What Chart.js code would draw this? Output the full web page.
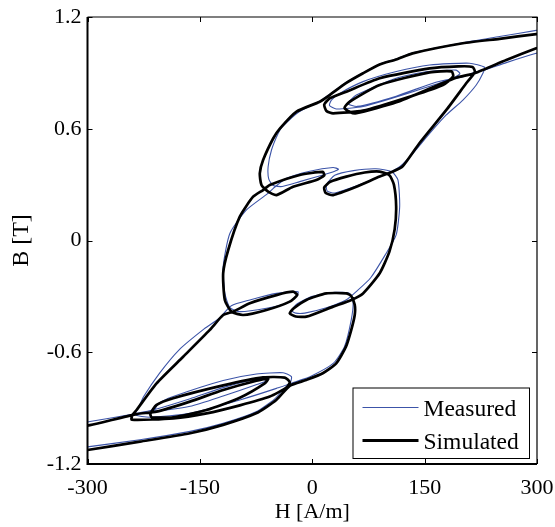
<!DOCTYPE html>
<html><head><meta charset="utf-8">
<script src="https://cdn.jsdelivr.net/npm/chart.js@4.4.0/dist/chart.umd.min.js"></script>
<style>html,body{margin:0;padding:0;background:#fff}canvas{display:block}</style>
</head><body>
<canvas id="c" width="555" height="527"></canvas>
<script>
const xTickValues = [-300, -150, 0, 150, 300];
const xTickLabels = ['-300', '-150', '0', '150', '300'];
const yTickValues = [-1.2, -0.6, 0, 0.6, 1.2];
const yTickLabels = ['-1.2', '-0.6', '0', '0.6', '1.2'];
const seriesNames = ['Measured', 'Simulated'];

// Simulated: ascending branch (from negative tip to positive tip)
const simAscH = [-315,-300,-230,-163,-119,-75,-48,-30,-8,14,32,45,52,56.7,56.7,52,45.5,18.9,-7.8,-25,-30,-22,-7.8,27.8,52.2,67.8,90,103,110,112,109,103,90,70,45.5,24,16,18,27.8,58.9,90,107.8,121,143,179,205.5,217,214,195,156.7,90,45.6,23.3,16,19,27.8,67.8,134.4,174.4,188,186,156.7,90,50,43,50,58.9,112.2,165.6,192.2,216.7,259,299,315];
const simAscB = [-1.13,-1.125,-1.08,-1.035,-0.99,-0.928,-0.856,-0.78,-0.749,-0.713,-0.66,-0.57,-0.481,-0.40,-0.345,-0.298,-0.284,-0.284,-0.319,-0.365,-0.391,-0.408,-0.409,-0.355,-0.319,-0.284,-0.176,-0.06,0.06,0.182,0.30,0.35,0.37,0.365,0.343,0.315,0.285,0.255,0.244,0.289,0.343,0.370,0.40,0.522,0.701,0.844,0.905,0.932,0.935,0.924,0.871,0.799,0.763,0.73,0.695,0.683,0.697,0.778,0.835,0.88,0.908,0.903,0.835,0.745,0.712,0.69,0.683,0.742,0.831,0.874,0.898,0.969,1.032,1.055];
// Simulated: descending branch (from positive tip to negative tip)
const simDescH = [315,299,250,201,134,112,90,67.8,45,23.3,10,-21,-43,-52,-65.6,-70,-67.8,-58.9,-47.8,-25.6,5.5,16,14,-16.7,-56.7,-65.6,-78.9,-96.7,-112.2,-118.9,-116.7,-107.8,-92.2,-61.1,-30,-20,-25.6,-47.8,-83.3,-105.6,-118.9,-136.7,-172.3,-207.8,-234.5,-240,-241,-185.6,-141.1,-96.7,-56.7,-34.5,-30,-36.7,-65.6,-118.9,-185.6,-207.8,-216,-214.5,-185.6,-141.1,-96.7,-63.4,-58.9,-74.5,-118.9,-163.4,-207.8,-234.5,-296.7,-315];
const simDescB = [1.115,1.108,1.083,1.059,1.005,0.972,0.945,0.898,0.845,0.781,0.745,0.692,0.602,0.549,0.432,0.361,0.298,0.262,0.244,0.289,0.325,0.35,0.368,0.352,0.298,0.271,0.235,0.128,-0.051,-0.176,-0.319,-0.382,-0.400,-0.373,-0.328,-0.292,-0.275,-0.293,-0.337,-0.382,-0.400,-0.48,-0.624,-0.767,-0.910,-0.937,-0.962,-0.955,-0.928,-0.885,-0.838,-0.790,-0.761,-0.736,-0.735,-0.778,-0.847,-0.883,-0.93,-0.949,-0.949,-0.910,-0.844,-0.767,-0.742,-0.753,-0.803,-0.865,-0.919,-0.932,-0.991,-1.0];

// Measured: ascending branch
const measAscH = [-315,-300,-230,-163,-119,-75,-50,-32,-3,28,43,52,54.5,50,30,0,-20,-28,-22,-10,20,45,60,78,97,112,116.7,114.4,106,85,55,30,19,20,30,60,95,116.7,134.4,156.7,178.9,201.1,218.9,227.8,230,210,156.7,112.2,67.8,36.7,25.6,23,32,67.8,134.4,180,197,192,150,112,58.9,47.8,60,112,165,201,219,230,259,299,315];
const measAscB = [-1.115,-1.108,-1.07,-1.025,-0.982,-0.92,-0.85,-0.775,-0.731,-0.66,-0.57,-0.427,-0.33,-0.285,-0.278,-0.30,-0.34,-0.375,-0.39,-0.39,-0.36,-0.32,-0.27,-0.20,-0.08,0.03,0.182,0.325,0.37,0.385,0.375,0.35,0.30,0.265,0.255,0.295,0.35,0.396,0.468,0.575,0.674,0.754,0.835,0.898,0.93,0.952,0.942,0.907,0.853,0.790,0.754,0.725,0.706,0.719,0.799,0.86,0.895,0.915,0.905,0.871,0.781,0.735,0.72,0.775,0.85,0.880,0.906,0.915,0.955,1.005,1.02];
// Measured: descending branch
const measDescH = [315,299,250,201,134,112,90,67.8,45,23.3,10,-18,-40,-45.6,-54.4,-58.9,-58,-52,-40,-16.7,14.4,30,35,27.8,-3.3,-34.4,-52,-60,-87.8,-110,-118.9,-116.7,-110,-96.7,-61.1,-34.4,-20,-19,-47.8,-83.3,-108,-125,-146,-178,-204,-225,-232.3,-236.7,-216.7,-163.4,-96.7,-47.8,-30,-27.8,-38.9,-74.5,-118.9,-185.6,-205,-210,-163,-119,-75,-60,-75,-119,-163,-207.8,-236.7,-296.7,-315];
const measDescB = [1.14,1.128,1.095,1.062,1.008,0.975,0.948,0.90,0.848,0.785,0.748,0.69,0.61,0.575,0.486,0.396,0.33,0.295,0.29,0.316,0.352,0.372,0.383,0.392,0.372,0.334,0.28,0.25,0.164,0.038,-0.140,-0.283,-0.36,-0.382,-0.364,-0.337,-0.295,-0.275,-0.284,-0.319,-0.35,-0.42,-0.48,-0.588,-0.713,-0.838,-0.901,-0.935,-0.949,-0.928,-0.856,-0.794,-0.767,-0.731,-0.710,-0.717,-0.752,-0.838,-0.875,-0.915,-0.89,-0.835,-0.775,-0.752,-0.745,-0.79,-0.85,-0.905,-0.93,-0.972,-0.98];

function toPoints(hs, bs) { return hs.map((h, i) => ({ x: h, y: bs[i] })); }
const measuredPts = toPoints(measAscH, measAscB).concat(toPoints(measDescH, measDescB));
const simulatedPts = toPoints(simAscH, simAscB).concat(toPoints(simDescH, simDescB));

const FONT = 'Liberation Serif, Times New Roman, serif';
const BLUE = '#3c54a8';

const framePlugin = {
  id: 'frame',
  afterDatasetsDraw(chart) {
    const { ctx, chartArea: a, scales: { x, y } } = chart;
    ctx.save();
    ctx.strokeStyle = '#000';
    ctx.lineWidth = 1;
    const tl = 5;
    ctx.beginPath();
    xTickValues.forEach(v => {
      const px = Math.round(x.getPixelForValue(v)) + 0.5;
      ctx.moveTo(px, a.bottom); ctx.lineTo(px, a.bottom - tl);
      ctx.moveTo(px, a.top); ctx.lineTo(px, a.top + tl);
    });
    yTickValues.forEach(v => {
      const py = Math.round(y.getPixelForValue(v)) + 0.5;
      ctx.moveTo(a.left, py); ctx.lineTo(a.left + tl, py);
      ctx.moveTo(a.right, py); ctx.lineTo(a.right - tl, py);
    });
    ctx.stroke();
    ctx.lineWidth = 1.2;
    ctx.beginPath();
    ctx.moveTo(a.left, a.top); ctx.lineTo(a.right, a.top); ctx.lineTo(a.right, a.bottom);
    ctx.stroke();
    ctx.lineWidth = 2;
    ctx.beginPath();
    ctx.moveTo(a.left, a.top); ctx.lineTo(a.left, a.bottom); ctx.lineTo(a.right, a.bottom);
    ctx.stroke();
    ctx.restore();
  },
  afterDraw(chart) {
    const { ctx, chartArea: a } = chart;
    const bx = a.right - 184.5, by = a.bottom - 76.5, bw = 176.5, bh = 70.5;
    ctx.save();
    ctx.fillStyle = '#fff';
    ctx.fillRect(bx, by, bw, bh);
    ctx.strokeStyle = '#000';
    ctx.lineWidth = 1;
    ctx.strokeRect(bx + 0.5, by + 0.5, bw, bh);
    const items = [
      { color: BLUE, width: 1, label: seriesNames[0], ly: by + 20 },
      { color: '#000', width: 3, label: seriesNames[1], ly: by + 53 }
    ];
    items.forEach(it => {
      ctx.strokeStyle = it.color; ctx.lineWidth = it.width;
      ctx.beginPath(); ctx.moveTo(bx + 10, it.ly); ctx.lineTo(bx + 66, it.ly); ctx.stroke();
      ctx.fillStyle = '#000';
      ctx.font = '23.5px ' + FONT;
      ctx.textAlign = 'left'; ctx.textBaseline = 'alphabetic';
      ctx.fillText(it.label, bx + 71, it.ly + 8.5);
    });
    ctx.restore();
  }
};

new Chart(document.getElementById('c'), {
  type: 'scatter',
  data: {
    datasets: [
      { label: seriesNames[1], data: simulatedPts, showLine: true, borderColor: '#000', borderWidth: 2.7,
        pointRadius: 0, tension: 0.2, clip: 0, order: 0 },
      { label: seriesNames[0], data: measuredPts, showLine: true, borderColor: BLUE, borderWidth: 1.1,
        pointRadius: 0, tension: 0.2, clip: 0, order: 1 }
    ]
  },
  options: {
    responsive: false,
    animation: false,
    devicePixelRatio: 1,
    layout: { padding: { top: 17, right: 18, left: 0, bottom: 0 } },
    elements: { line: { capBezierPoints: false, borderJoinStyle: 'round', borderCapStyle: 'round' } },
    plugins: { legend: { display: false }, tooltip: { enabled: false } },
    scales: {
      x: {
        type: 'linear', position: 'bottom', min: -300, max: 300,
        afterBuildTicks: s => { s.ticks = xTickValues.map(v => ({ value: v })); },
        afterFit: s => { s.height = 63; s.paddingLeft = 0; s.paddingRight = 0; },
        grid: { display: false, drawTicks: false },
        border: { display: false },
        ticks: { callback: (v, i) => xTickLabels[i], font: { family: FONT, size: 22 }, color: '#000', padding: 11, maxRotation: 0, autoSkip: false },
        title: { display: true, text: 'H [A/m]', font: { family: FONT, size: 22 }, color: '#000', padding: { top: 0, bottom: 2 } }
      },
      y: {
        type: 'linear', position: 'left', min: -1.2, max: 1.2,
        afterBuildTicks: s => { s.ticks = yTickValues.map(v => ({ value: v })); },
        afterFit: s => { s.width = 87.5; s.paddingTop = 0; s.paddingBottom = 0; },
        grid: { display: false, drawTicks: false },
        border: { display: false },
        ticks: { callback: (v, i) => yTickLabels[i], font: { family: FONT, size: 22 }, color: '#000', padding: 6, autoSkip: false },
        title: { display: true, text: 'B [T]', font: { family: FONT, size: 24 }, color: '#000', padding: { top: 7, bottom: 0 } }
      }
    }
  },
  plugins: [framePlugin]
});
</script>
</body></html>
